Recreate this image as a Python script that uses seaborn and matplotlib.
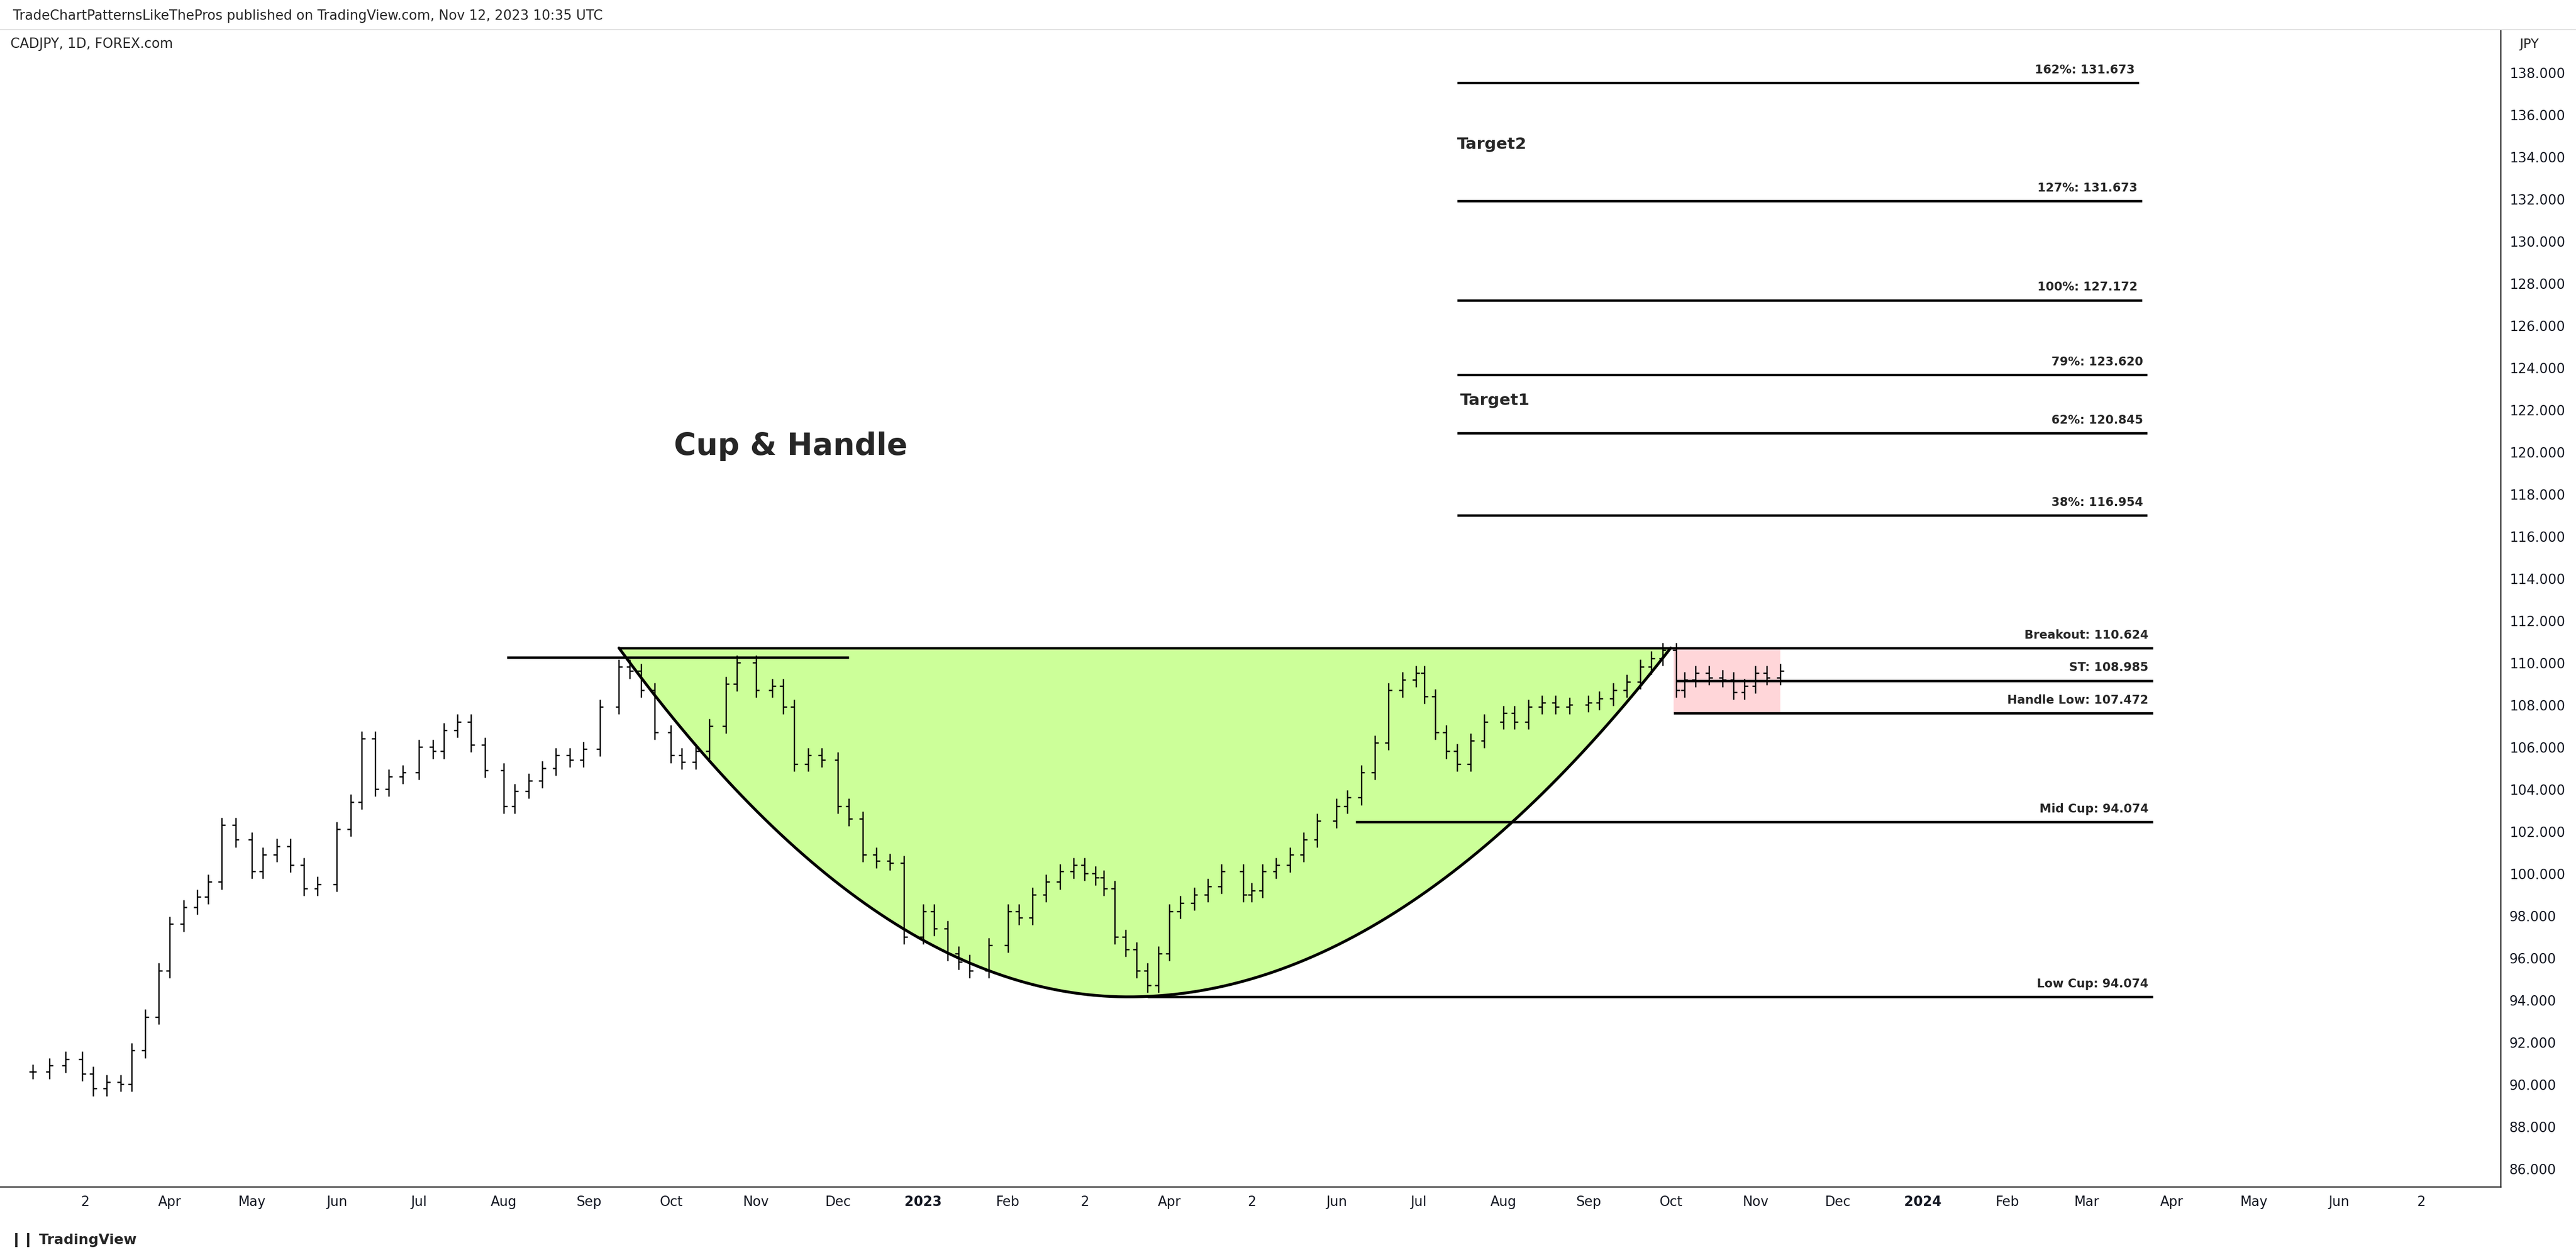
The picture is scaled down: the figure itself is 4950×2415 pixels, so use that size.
import numpy as np
import pandas as pd
import matplotlib
matplotlib.use("Agg")
import matplotlib.pyplot as plt
import matplotlib.dates as mdates
import seaborn as sns

# CADJPY daily
dates = ["2022-02-10", "2022-02-16", "2022-02-22", "2022-02-28", "2022-03-04", "2022-03-09",
         "2022-03-14", "2022-03-18", "2022-03-23", "2022-03-28", "2022-04-01", "2022-04-06",
         "2022-04-11", "2022-04-15", "2022-04-20", "2022-04-25", "2022-05-01", "2022-05-05",
         "2022-05-10", "2022-05-15", "2022-05-20", "2022-05-25", "2022-06-01", "2022-06-06",
         "2022-06-10", "2022-06-15", "2022-06-20", "2022-06-25", "2022-07-01", "2022-07-06",
         "2022-07-10", "2022-07-15", "2022-07-20", "2022-07-25", "2022-08-01", "2022-08-05",
         "2022-08-10", "2022-08-15", "2022-08-20", "2022-08-25", "2022-08-30", "2022-09-05",
         "2022-09-12", "2022-09-16", "2022-09-20", "2022-09-25", "2022-10-01", "2022-10-05",
         "2022-10-10", "2022-10-15", "2022-10-21", "2022-10-25", "2022-11-01", "2022-11-07",
         "2022-11-11", "2022-11-15", "2022-11-20", "2022-11-25", "2022-12-01", "2022-12-05",
         "2022-12-10", "2022-12-15", "2022-12-20", "2022-12-25", "2023-01-01", "2023-01-05",
         "2023-01-10", "2023-01-14", "2023-01-18", "2023-01-25", "2023-02-01", "2023-02-05",
         "2023-02-10", "2023-02-15", "2023-02-20", "2023-02-25", "2023-03-01", "2023-03-05",
         "2023-03-08", "2023-03-12", "2023-03-16", "2023-03-20", "2023-03-24", "2023-03-28",
         "2023-04-01", "2023-04-05", "2023-04-10", "2023-04-15", "2023-04-20", "2023-04-28",
         "2023-05-01", "2023-05-05", "2023-05-10", "2023-05-15", "2023-05-20", "2023-05-25",
         "2023-06-01", "2023-06-05", "2023-06-10", "2023-06-15", "2023-06-20", "2023-06-25",
         "2023-06-30", "2023-07-03", "2023-07-07", "2023-07-11", "2023-07-15", "2023-07-20",
         "2023-07-25", "2023-08-01", "2023-08-05", "2023-08-10", "2023-08-15", "2023-08-20",
         "2023-08-25", "2023-09-01", "2023-09-05", "2023-09-10", "2023-09-15", "2023-09-20",
         "2023-09-24", "2023-09-28", "2023-10-03", "2023-10-06", "2023-10-10", "2023-10-15",
         "2023-10-20", "2023-10-24", "2023-10-28", "2023-11-01", "2023-11-05", "2023-11-10"]
closes = [90.6, 90.9, 91.2, 90.5, 89.8, 90.1,
          90.0, 91.6, 93.2, 95.4, 97.6, 98.4,
          98.9, 99.6, 102.3, 101.6, 100.1, 100.9,
          101.3, 100.4, 99.3, 99.5, 102.1, 103.4,
          106.4, 104.0, 104.6, 104.8, 106.0, 105.8,
          106.8, 107.2, 106.1, 104.9, 103.2, 103.9,
          104.4, 105.0, 105.6, 105.4, 105.9, 107.9,
          109.8, 109.6, 108.7, 106.7, 105.6, 105.3,
          105.8, 107.0, 109.0, 110.0, 108.7, 108.9,
          107.9, 105.2, 105.6, 105.4, 103.2, 102.6,
          100.9, 100.6, 100.5, 97.0, 98.2, 97.4,
          96.2, 95.8, 95.4, 96.6, 98.2, 97.9,
          99.0, 99.6, 100.1, 100.4, 100.0, 99.8,
          99.3, 97.0, 96.4, 95.4, 94.7, 96.2,
          98.2, 98.6, 99.0, 99.4, 100.1, 99.0,
          99.2, 100.1, 100.4, 100.9, 101.6, 102.5,
          103.2, 103.6, 104.8, 106.2, 108.7, 109.2,
          109.5, 108.4, 106.7, 105.8, 105.2, 106.3,
          107.2, 107.6, 107.2, 107.9, 108.1, 107.9,
          108.0, 108.1, 108.3, 108.7, 109.1, 109.8,
          110.2, 110.6, 108.7, 109.2, 109.5, 109.3,
          109.2, 108.6, 108.9, 109.5, 109.3, 109.6]

fib_names = ["162%: 131.673", "127%: 131.673", "100%: 127.172", "79%: 123.620",
             "62%: 120.845", "38%: 116.954"]
fib_levels = [137.5, 131.9, 127.2, 123.65, 120.9, 117.0]
fib_ends = ["2024-03-20", "2024-03-21", "2024-03-21", "2024-03-23", "2024-03-23", "2024-03-23"]

level_names = ["Breakout: 110.624", "ST: 108.985", "Handle Low: 107.472",
               "Mid Cup: 94.074", "Low Cup: 94.074"]
level_values = [110.7, 109.15, 107.6, 102.45, 94.15]
level_starts = ["2022-09-12", "2023-10-03", "2023-10-02", "2023-06-08", "2023-03-24"]

tick_dates = ["2022-03-01", "2022-04-01", "2022-05-01", "2022-06-01", "2022-07-01", "2022-08-01",
              "2022-09-01", "2022-10-01", "2022-11-01", "2022-12-01", "2023-01-01", "2023-02-01",
              "2023-03-01", "2023-04-01", "2023-05-01", "2023-06-01", "2023-07-01", "2023-08-01",
              "2023-09-01", "2023-10-01", "2023-11-01", "2023-12-01", "2024-01-01", "2024-02-01",
              "2024-03-01", "2024-04-01", "2024-05-01", "2024-06-01", "2024-07-01"]
tick_labels = ["2", "Apr", "May", "Jun", "Jul", "Aug", "Sep", "Oct", "Nov", "Dec", "2023", "Feb",
               "2", "Apr", "2", "Jun", "Jul", "Aug", "Sep", "Oct", "Nov", "Dec", "2024", "Feb",
               "Mar", "Apr", "May", "Jun", "2"]

sns.set_theme(style="white")
plt.rcParams['font.family'] = ['DejaVu Sans']

fig = plt.figure(figsize=(16.5, 8.0533), dpi=300)
ax = fig.add_axes([0.0, 0.056, 0.9707, 0.920])

df = pd.DataFrame({"date": pd.to_datetime(dates), "close": closes})
df["x"] = mdates.date2num(df["date"])
df["open"] = df["close"].shift(1).fillna(df["close"])
df["high"] = df[["open", "close"]].max(axis=1) + 0.35
df["low"] = df[["open", "close"]].min(axis=1) - 0.35

# cup fill and curve
x_left = mdates.date2num(pd.Timestamp("2022-09-12"))
x_bot = mdates.date2num(pd.Timestamp("2023-03-17"))
x_right = mdates.date2num(pd.Timestamp("2023-10-01"))
top, bot = 110.7, 94.15
xl = np.linspace(x_left, x_bot, 200)
xr = np.linspace(x_bot, x_right, 200)
yl = bot + (top - bot) * ((x_bot - xl) / (x_bot - x_left)) ** 2
yr = bot + (top - bot) * ((xr - x_bot) / (x_right - x_bot)) ** 2
cx = np.concatenate([xl, xr])
cy = np.concatenate([yl, yr])
ax.fill_between(cx, cy, top, color="#ccff99", zorder=1)
sns.lineplot(x=cx, y=cy, ax=ax, color="black", lw=1.3, zorder=3, sort=False)

# handle box
hx0 = mdates.date2num(pd.Timestamp("2023-10-02"))
hx1 = mdates.date2num(pd.Timestamp("2023-11-10"))
ax.add_patch(plt.Rectangle((hx0, 107.6), hx1 - hx0, 3.1, color="#ffd6d9", zorder=1, lw=0))

# OHLC bars
tw = 1.3
ax.vlines(df["x"], df["low"], df["high"], color="black", lw=0.6, zorder=4)
ax.hlines(df["open"], df["x"] - tw, df["x"], color="black", lw=0.6, zorder=4)
ax.hlines(df["close"], df["x"], df["x"] + tw, color="black", lw=0.6, zorder=4)

# horizontal levels
end_x = mdates.date2num(pd.Timestamp("2024-03-25"))
for name, val, st in zip(level_names, level_values, level_starts):
    s = mdates.date2num(pd.Timestamp(st))
    ax.hlines(val, s, end_x, color="black", lw=1.1, zorder=5)
    ax.text(end_x - 1.5, val + 0.35, name, ha="right", va="bottom", fontsize=5.5,
            fontweight="bold", zorder=6)
ax.hlines(110.25, mdates.date2num(pd.Timestamp("2022-08-02")),
          mdates.date2num(pd.Timestamp("2022-12-05")), color="black", lw=1.1, zorder=5)

fib_start = mdates.date2num(pd.Timestamp("2023-07-15"))
for name, val, en in zip(fib_names, fib_levels, fib_ends):
    e = mdates.date2num(pd.Timestamp(en))
    ax.hlines(val, fib_start, e, color="black", lw=1.1, zorder=5)
    ax.text(e - 1.5, val + 0.35, name, ha="right", va="bottom", fontsize=5.5,
            fontweight="bold", zorder=6)

ax.text(fib_start, 134.6, "Target2", fontsize=7.5, fontweight="bold", va="center")
ax.text(fib_start + 1.2, 122.45, "Target1", fontsize=7.5, fontweight="bold", va="center")
ax.text(mdates.date2num(pd.Timestamp("2022-10-02")), 120.3, "Cup & Handle",
        fontsize=14, fontweight="bold", va="center")

ax.set_xlim(mdates.date2num(pd.Timestamp("2022-01-29")), mdates.date2num(pd.Timestamp("2024-07-30")))
ax.set_ylim(85.15, 140.03)
ax.set_xticks(mdates.date2num(pd.to_datetime(tick_dates)))
ax.set_xticklabels(tick_labels, fontsize=6.2)
for lab in ax.get_xticklabels():
    if lab.get_text() in ("2023", "2024"):
        lab.set_fontweight("bold")
ax.yaxis.tick_right()
ax.set_yticks(np.arange(86, 139, 2))
ax.set_yticklabels([f"{v:.3f}" for v in np.arange(86, 139, 2)], fontsize=6.2)
ax.tick_params(axis="both", length=0, pad=4, colors="#131722")
for side in ("top", "left"):
    ax.spines[side].set_visible(False)
ax.spines["right"].set_color("#333333")
ax.spines["bottom"].set_color("#333333")
ax.spines["right"].set_linewidth(0.6)
ax.spines["bottom"].set_linewidth(0.6)

fig.text(0.005, 0.987, "TradeChartPatternsLikeThePros published on TradingView.com, Nov 12, 2023 10:35 UTC",
         fontsize=6.2, va="center")
fig.text(0.004, 0.965, "CADJPY, 1D, FOREX.com", fontsize=6.2, va="center")
fig.text(0.978, 0.965, "JPY", fontsize=6, va="center")
fig.text(0.004, 0.014, "\u2759\u2759 TradingView", fontsize=6.5, va="center", fontweight="bold")
fig.add_artist(plt.Line2D([0, 1], [0.976, 0.976], color="#dddddd", lw=0.5))

fig.savefig("out.png", dpi=300)
